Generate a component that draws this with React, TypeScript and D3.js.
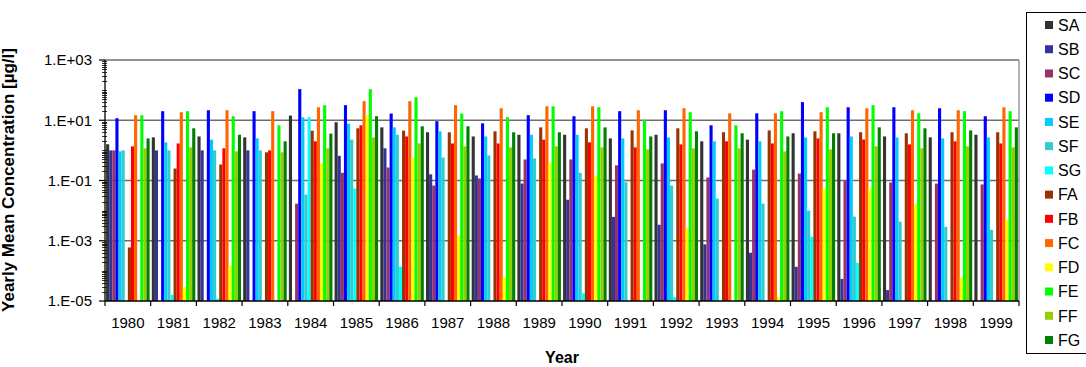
import React, { useRef, useEffect } from "react";
import * as d3 from "d3";

// years on the x axis
const years = [
  "1980", "1981", "1982", "1983", "1984", "1985", "1986", "1987", "1988", "1989",
  "1990", "1991", "1992", "1993", "1994", "1995", "1996", "1997", "1998", "1999",
];

// yearly mean concentrations, null = below the axis minimum
const SA = [1.6, 2.7, 2.9, 2.7, 14.3, 8.6, 5.8, 4.0, 2.9, 3.3, 3.3, 2.5, 3.3, 2.0, 2.27, 3.7, 3.7, 2.9, 2.7, 3.3];
const SB = [1.0, 1.0, 1.0, 1.0, null, 0.66, 1.17, 0.16, 0.147, 0.079, 0.023, 0.0062, 0.0034, 0.00076, 0.0004, 0.000136, 0.000054, 0.000023, null, null];
const SC = [1.0, null, null, null, 0.017, 0.18, 0.27, 0.068, 0.117, 0.5, 0.5, 0.32, 0.37, 0.126, 0.23, 0.17, 0.096, 0.086, 0.079, 0.074];
const SD = [11.7, 20, 21.5, 20, 108, 31.6, 16.7, 9.3, 7.9, 14.7, 13.6, 20, 21.5, 6.8, 17, 40, 27, 27, 25, 13.6];
const SE = [0.93, 1.85, 2.27, 2.5, 12.6, 7.7, 5.8, 4.3, 2.9, 3.3, 3.3, 2.5, 2.7, 2.0, 2.0, 2.7, 2.9, 2.7, 2.5, 2.7];
const SF = [1.0, 1.0, 1.0, 1.0, 0.034, 2.27, 3.3, 0.58, 0.68, 0.54, 0.18, 0.088, 0.068, 0.025, 0.017, 0.01, 0.0063, 0.0043, 0.0029, 0.0023];
const SG = [null, 1.6e-5, 1.2e-5, null, 12.6, 0.054, 1.36e-4, null, null, null, 1.8e-5, null, 1.35e-5, null, null, 1.36e-3, 1.85e-4, null, null, null];
const FA = [6e-4, 0.25, 0.34, 0.86, 4.5, 5.4, 4.5, 4.0, 4.3, 5.8, 5.4, 4.6, 5.4, 4.0, 4.6, 4.3, 4.0, 3.7, 4.0, 4.0];
const FB = [1.36, 1.7, 1.17, 1.0, 2.0, 6.8, 2.9, 1.7, 1.7, 2.27, 1.85, 1.26, 1.58, 2.0, 1.7, 2.5, 2.3, 1.58, 2.0, 1.7];
const FC = [14.7, 18.5, 21.5, 20, 27, 43, 43, 31.6, 25, 29, 29, 21.5, 25, 17, 17, 18.5, 25, 21.5, 21.5, 27];
const FD = [null, 2.9e-5, 1.5e-4, null, 0.37, 14.7, 0.58, 1.5e-3, 6.3e-5, 0.4, 0.147, null, 2.7e-3, null, 1.35e-5, 0.054, 0.054, 0.016, 5.9e-5, 5e-3];
const FE = [14.7, 20, 13.6, 6.8, 31.6, 108, 58, 16.7, 12.6, 29, 27, 10, 18.5, 6.8, 20, 27, 31.6, 17, 20, 20];
const FF = [1.17, 1.26, 0.93, 0.86, 1.17, 2.7, 1.7, 1.36, 1.26, 1.36, 1.26, 1.08, 1.17, 1.17, 0.93, 1.08, 1.36, 1.17, 1.36, 1.26];
const FG = [2.5, 5.4, 3.3, 2.0, 3.6, 13.6, 6.3, 6.3, 4.0, 4.0, 5.8, 2.9, 4.3, 3.7, 2.9, 3.7, 5.8, 5.4, 4.6, 5.8];

const seriesNames = ["SA", "SB", "SC", "SD", "SE", "SF", "SG", "FA", "FB", "FC", "FD", "FE", "FF", "FG"];
const seriesValues = [SA, SB, SC, SD, SE, SF, SG, FA, FB, FC, FD, FE, FF, FG];
const seriesColors = [
  "#333333", "#333399", "#993366", "#0000ff", "#00ccff", "#33cccc", "#00ffff",
  "#993300", "#ff0000", "#ff6600", "#ffff00", "#00ff00", "#99cc00", "#008000",
];

// y tick labels (every second decade)
const yTicks = [1e-5, 1e-3, 1e-1, 1e1, 1e3];
const yTickLabels = ["1.E-05", "1.E-03", "1.E-01", "1.E+01", "1.E+03"];

const FONT = "Arial, 'Liberation Sans', sans-serif";

const App = () => {
  const chartRef = useRef(null);

  useEffect(() => {
    const width = 1086;
    const height = 367;
    const plot = { left: 105, right: 1019, top: 60, bottom: 301 };

    const svg = d3.select(chartRef.current).attr("width", width).attr("height", height);
    svg.selectAll("*").remove();

    svg.append("rect").attr("width", width).attr("height", height).attr("fill", "#fff");

    const x0 = d3.scaleBand().domain(years).range([plot.left, plot.right]).padding(0);
    const x1 = d3
      .scaleBand()
      .domain(seriesNames)
      .range([0, x0.bandwidth()])
      .paddingInner(0)
      .paddingOuter(0.35);
    const y = d3.scaleLog().domain([1e-5, 1e3]).range([plot.bottom, plot.top]);

    // gridlines
    svg
      .selectAll(".grid")
      .data([1e-3, 1e-1, 1e1, 1e3])
      .join("line")
      .attr("x1", plot.left)
      .attr("x2", plot.right)
      .attr("y1", (d) => y(d))
      .attr("y2", (d) => y(d))
      .attr("stroke", "#6e6e6e")
      .attr("stroke-width", 1.3);

    // right border of the plot area
    svg
      .append("line")
      .attr("x1", plot.right)
      .attr("x2", plot.right)
      .attr("y1", plot.top)
      .attr("y2", plot.bottom)
      .attr("stroke", "#8a8a8a")
      .attr("stroke-width", 1.3);

    // bars
    const rows = [];
    years.forEach((yr, i) => {
      seriesNames.forEach((s, j) => {
        const v = seriesValues[j][i];
        if (v != null && v > 1e-5) rows.push({ yr, s, v, c: seriesColors[j] });
      });
    });
    svg
      .append("g")
      .selectAll("rect")
      .data(rows)
      .join("rect")
      .attr("x", (d) => x0(d.yr) + x1(d.s))
      .attr("y", (d) => y(d.v))
      .attr("width", x1.bandwidth())
      .attr("height", (d) => plot.bottom - y(d.v))
      .attr("fill", (d) => d.c);

    // y axis with log minor ticks
    const minor = [];
    for (let e = -5; e < 3; e++) {
      for (let k = 2; k <= 9; k++) minor.push(k * Math.pow(10, e));
      if (e % 2 === 0) minor.push(Math.pow(10, e));
    }
    svg
      .append("g")
      .selectAll("line")
      .data(minor)
      .join("line")
      .attr("x1", plot.left - 3)
      .attr("x2", plot.left + 2)
      .attr("y1", (d) => Math.round(y(d)) + 0.5)
      .attr("y2", (d) => Math.round(y(d)) + 0.5)
      .attr("stroke", "#000")
      .attr("stroke-width", 0.8);
    svg
      .append("g")
      .selectAll("line")
      .data(yTicks)
      .join("line")
      .attr("x1", plot.left - 6)
      .attr("x2", plot.left)
      .attr("y1", (d) => y(d))
      .attr("y2", (d) => y(d))
      .attr("stroke", "#000")
      .attr("stroke-width", 1.2);
    svg
      .append("line")
      .attr("x1", plot.left)
      .attr("x2", plot.left)
      .attr("y1", plot.top)
      .attr("y2", plot.bottom)
      .attr("stroke", "#000")
      .attr("stroke-width", 1.3);
    svg
      .append("g")
      .selectAll("text")
      .data(yTicks)
      .join("text")
      .attr("x", 92)
      .attr("y", (d) => y(d))
      .attr("dy", "0.36em")
      .attr("text-anchor", "end")
      .attr("font-family", FONT)
      .attr("font-size", 15)
      .text((d, i) => yTickLabels[i]);

    // x axis
    svg
      .append("line")
      .attr("x1", plot.left)
      .attr("x2", plot.right)
      .attr("y1", plot.bottom)
      .attr("y2", plot.bottom)
      .attr("stroke", "#000")
      .attr("stroke-width", 1.3);
    svg
      .append("g")
      .selectAll("line")
      .data(years.concat(["end"]))
      .join("line")
      .attr("x1", (d, i) => plot.left + i * x0.step())
      .attr("x2", (d, i) => plot.left + i * x0.step())
      .attr("y1", plot.bottom)
      .attr("y2", plot.bottom + 5)
      .attr("stroke", "#000")
      .attr("stroke-width", 1.2);
    svg
      .append("g")
      .selectAll("text")
      .data(years)
      .join("text")
      .attr("x", (d) => x0(d) + x0.bandwidth() / 2)
      .attr("y", 328)
      .attr("text-anchor", "middle")
      .attr("font-family", FONT)
      .attr("font-size", 15)
      .text((d) => d);

    // axis titles
    svg
      .append("text")
      .attr("x", (plot.left + plot.right) / 2)
      .attr("y", 363)
      .attr("text-anchor", "middle")
      .attr("font-family", FONT)
      .attr("font-weight", "bold")
      .attr("font-size", 16)
      .text("Year");
    svg
      .append("text")
      .attr("transform", "translate(14,180) rotate(-90)")
      .attr("text-anchor", "middle")
      .attr("font-family", FONT)
      .attr("font-weight", "bold")
      .attr("font-size", 17)
      .text("Yearly Mean Concentration [µg/l]");

    // legend
    const lg = svg.append("g");
    lg.append("rect")
      .attr("x", 1026.5)
      .attr("y", 12.5)
      .attr("width", 80)
      .attr("height", 341)
      .attr("fill", "#fff")
      .attr("stroke", "#000")
      .attr("stroke-width", 1);
    const items = lg
      .selectAll("g")
      .data(seriesNames)
      .join("g")
      .attr("transform", (d, i) => `translate(0,${25 + i * 24.23})`);
    items
      .append("rect")
      .attr("x", 1045)
      .attr("y", -4)
      .attr("width", 8)
      .attr("height", 8)
      .attr("fill", (d, i) => seriesColors[i]);
    items
      .append("text")
      .attr("x", 1058)
      .attr("dy", "0.36em")
      .attr("font-family", FONT)
      .attr("font-size", 16)
      .text((d) => d);
  }, []);

  return (
    <svg ref={chartRef} style={{ position: "absolute", left: 0, top: 0, display: "block" }}></svg>
  );
};

export default App;
